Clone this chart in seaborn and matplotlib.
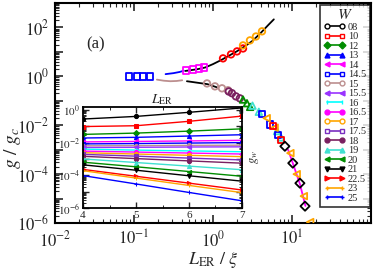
import numpy as np
import pandas as pd
import matplotlib
matplotlib.use("Agg")
import matplotlib.pyplot as plt
from matplotlib.lines import Line2D
from matplotlib import ticker
import seaborn as sns

# ---- legend / inset series ----
W_LABELS = ["08", "10", "12", "13", "14", "14.5", "15", "15.5", "16",
            "16.5", "17", "17.5", "18", "19", "20", "21", "22.5", "23", "25"]
W_COLORS = ["black", "#ff0000", "#008c00", "#0000ff", "#ff00ff", "#0000ff",
            "#bc8f8f", "#9933ff", "#00ffff", "#ff00ff", "#ffa500", "#7a2fc0",
            "#7a2060", "#40e0d0", "#008c00", "black", "#ff0000", "#ffa500",
            "#0000ff"]
W_MARKERS = ["o", "s", "D", "^", "<", "s", "o", "<", "|", "o", "o", "s",
             "o", "^", "<", "v", ">", "+", "+"]
W_FILLED = [False, False, True, True, True, False, False, True, True, True,
            False, False, True, True, True, True, True, True, True]

# inset: log10(g_w) at L_ER = 4, 5, 6, 7
L_ER = [4, 5, 6, 7]
INSET_LOGG = [
    [-0.56, -0.40, -0.15, 0.12],
    [-1.02, -0.97, -0.70, -0.38],
    [-1.50, -1.42, -1.30, -1.16],
    [-1.72, -1.68, -1.60, -1.52],
    [-1.96, -1.93, -1.90, -1.86],
    [-2.08, -2.06, -2.03, -2.00],
    [-2.20, -2.19, -2.17, -2.16],
    [-2.30, -2.29, -2.27, -2.26],
    [-2.40, -2.46, -2.51, -2.56],
    [-2.52, -2.58, -2.64, -2.70],
    [-2.62, -2.70, -2.78, -2.86],
    [-2.72, -2.83, -2.95, -3.06],
    [-2.84, -2.98, -3.12, -3.26],
    [-3.00, -3.22, -3.44, -3.66],
    [-3.20, -3.48, -3.77, -4.06],
    [-3.36, -3.69, -4.03, -4.36],
    [-3.64, -4.06, -4.48, -4.90],
    [-3.72, -4.17, -4.62, -5.06],
    [-4.02, -4.53, -5.05, -5.56],
]

# ---- main collapse: log10(L/xi), log10(g/gc) ----
MAIN_SETS = [
    # color, marker, log x, log y
    ("#0000ff", "s", [-1.063, -0.962, -0.886, -0.797], [0.0, 0.0, 0.0, 0.0]),
    ("#ff00ff", "s", [-0.342, -0.253, -0.177, -0.114], [0.245, 0.286, 0.327, 0.367]),
    ("#ff0000", "o", [0.127, 0.228, 0.304, 0.38], [0.735, 0.898, 1.02, 1.14]),
    ("#ffa500", "o", [0.38, 0.468, 0.544, 0.62], [1.265, 1.47, 1.63, 1.84]),
    ("#bc8f8f", "o", [-0.076, 0.025, 0.114, 0.19], [-0.29, -0.41, -0.49, -0.57]),
    ("#7a2060", "o", [0.20, 0.24, 0.29, 0.34], [-0.62, -0.69, -0.82, -0.90]),
    ("#008c00", "^", [0.38, 0.43, 0.47], [-0.95, -1.10, -1.25]),
    ("#40e0d0", "^", [0.50, 0.58, 0.81, 0.86], [-1.20, -1.45, -2.24, -2.50]),
    ("#0000ff", "s", [0.62, 0.72, 0.82], [-1.55, -1.96, -2.40]),
    ("#ffa500", "<", [0.68, 0.78, 0.98, 1.06, 1.15, 1.23], [-1.71, -2.10, -3.14, -4.00, -4.90, -5.96]),
    ("#ff0000", "s", [0.76, 0.86], [-2.04, -2.60]),
    ("black", "D", [0.91, 1.01, 1.10, 1.165], [-2.86, -3.55, -4.37, -5.31]),
]

# fitted curves (log x, log y)
FIT_UP_X = [-0.35, -0.2, -0.1, 0.0, 0.1, 0.2, 0.3, 0.4, 0.5, 0.6, 0.7, 0.77]
FIT_UP_Y = [0.22, 0.29, 0.36, 0.5, 0.66, 0.84, 1.02, 1.22, 1.45, 1.76, 2.1, 2.33]
FIT_LO_X = [-0.33, -0.2, -0.07, 0.05]
FIT_LO_Y = [-0.2, -0.26, -0.32, -0.45]
BLUE_SEG_X = [-0.6, -0.5, -0.42, -0.37]
BLUE_SEG_Y = [0.09, 0.13, 0.18, 0.23]
ROSY_SEG_X = [-0.71, -0.62, -0.54, -0.46, -0.39]
ROSY_SEG_Y = [-0.135, -0.18, -0.2, -0.19, -0.16]
MAG_SEG_X = [0.95, 1.01, 1.10, 1.17]
MAG_SEG_Y = [-3.0, -3.55, -4.4, -5.3]

sns.set_theme(style="ticks")
plt.rcParams["font.family"] = ["Liberation Serif", "DejaVu Serif"]
plt.rcParams["mathtext.fontset"] = "stix"

fig = plt.figure(figsize=(3.74, 2.71), dpi=100)
ax = fig.add_axes([0.147, 0.177, 0.845, 0.812])

for xs, ys, c in [(FIT_UP_X, FIT_UP_Y, "black"), (FIT_LO_X, FIT_LO_Y, "black"),
                  (BLUE_SEG_X, BLUE_SEG_Y, "#0000ff"), (ROSY_SEG_X, ROSY_SEG_Y, "#bc8f8f"),
                  (MAG_SEG_X, MAG_SEG_Y, "#ff00ff")]:
    sns.lineplot(x=10 ** np.array(xs), y=10 ** np.array(ys), ax=ax, color=c,
                 lw=1.3, sort=False)

for c, m, xs, ys in MAIN_SETS:
    sns.scatterplot(x=10 ** np.array(xs), y=10 ** np.array(ys), ax=ax, marker=m,
                    s=22, facecolor="none", edgecolor=c, linewidth=1.3, zorder=3)

ax.set_xscale("log")
ax.set_yscale("log")
ax.set_xlim(1e-2, 1e2)
ax.set_ylim(1e-6, 1e3)


def fmt_every(step):
    def f(v, pos):
        e = int(round(np.log10(v)))
        if e % step:
            return ""
        return r"$10^{%d}$" % e
    return f


ax.xaxis.set_major_locator(ticker.LogLocator(base=10, numticks=10))
ax.yaxis.set_major_locator(ticker.LogLocator(base=10, numticks=12))
ax.xaxis.set_minor_locator(ticker.LogLocator(base=10, subs=np.arange(2, 10), numticks=12))
ax.yaxis.set_minor_locator(ticker.LogLocator(base=10, subs=np.arange(2, 10), numticks=12))
ax.xaxis.set_major_formatter(ticker.FuncFormatter(lambda v, p: "" if v > 50 else r"$10^{%d}$" % round(np.log10(v))))
ax.yaxis.set_major_formatter(ticker.FuncFormatter(fmt_every(2)))
ax.xaxis.set_minor_formatter(ticker.NullFormatter())
ax.yaxis.set_minor_formatter(ticker.NullFormatter())
ax.tick_params(which="both", direction="in", top=True, right=True, labelsize=12)
ax.tick_params(axis="x", pad=5)
ax.tick_params(axis="y", pad=4)
ax.tick_params(which="major", length=6, width=1.2)
ax.tick_params(which="minor", length=3, width=0.8)
for s in ax.spines.values():
    s.set_linewidth(1.5)
    s.set_color("black")

ax.set_xlabel(r"$L_{\rm ER}\ /\ \xi$", fontsize=13, labelpad=0)
ax.set_ylabel(r"$g\ /\ g_c$", fontsize=14)
ax.yaxis.set_label_coords(-0.1, 0.34)
ax.text(0.127, 0.81, "(a)", transform=ax.transAxes, fontsize=12, ha="center", va="center")

handles = []
for c, m, f in zip(W_COLORS, W_MARKERS, W_FILLED):
    handles.append(Line2D([0], [0], color=c, marker=m, markersize=3.5, lw=1.2,
                          markerfacecolor=c if f else "white",
                          markeredgecolor=c, markeredgewidth=1.0))
leg = ax.legend(handles, W_LABELS, title=r"$W$", loc="upper right",
                bbox_to_anchor=(0.996, 0.992), fontsize=7.5, title_fontsize=11,
                numpoints=2, handlelength=2.0, handletextpad=0.3, labelspacing=0.02,
                borderpad=0.35, frameon=True, fancybox=False, edgecolor="black",
                borderaxespad=0)
leg.get_frame().set_linewidth(1.2)

# ---- inset ----
ins = fig.add_axes([0.222, 0.2325, 0.425, 0.3727])
for lab, c, m, f, lg in zip(W_LABELS, W_COLORS, W_MARKERS, W_FILLED, INSET_LOGG):
    sns.lineplot(x=L_ER, y=10 ** np.array(lg), ax=ins, color=c, lw=1.0,
                 marker=m, markersize=3, markerfacecolor=c, markeredgecolor=c)
ins.set_yscale("log")
ins.set_xlim(4, 7)
ins.set_ylim(1e-6, 1.5)
ins.set_xticks([4, 5, 6, 7])
ins.xaxis.set_minor_locator(ticker.MultipleLocator(0.5))
ins.yaxis.set_major_locator(ticker.LogLocator(base=10, numticks=12))
ins.yaxis.set_minor_locator(ticker.LogLocator(base=10, subs=np.arange(2, 10), numticks=12))
ins.yaxis.set_major_formatter(ticker.FuncFormatter(fmt_every(2)))
ins.yaxis.set_minor_formatter(ticker.NullFormatter())
ins.tick_params(which="both", direction="in", top=True, right=True, labelsize=8, pad=2)
ins.tick_params(which="major", length=4, width=1.0)
ins.tick_params(which="minor", length=2, width=0.7)
for s in ins.spines.values():
    s.set_linewidth(1.3)
    s.set_color("black")
ins.set_title(r"$L_{\rm ER}$", fontsize=10, pad=3)
ins.set_xlabel("")
ins.set_ylabel(r"$g_w$", fontsize=9, rotation=90)
ins.yaxis.set_label_position("right")

fig.savefig("out.png", dpi=100)
